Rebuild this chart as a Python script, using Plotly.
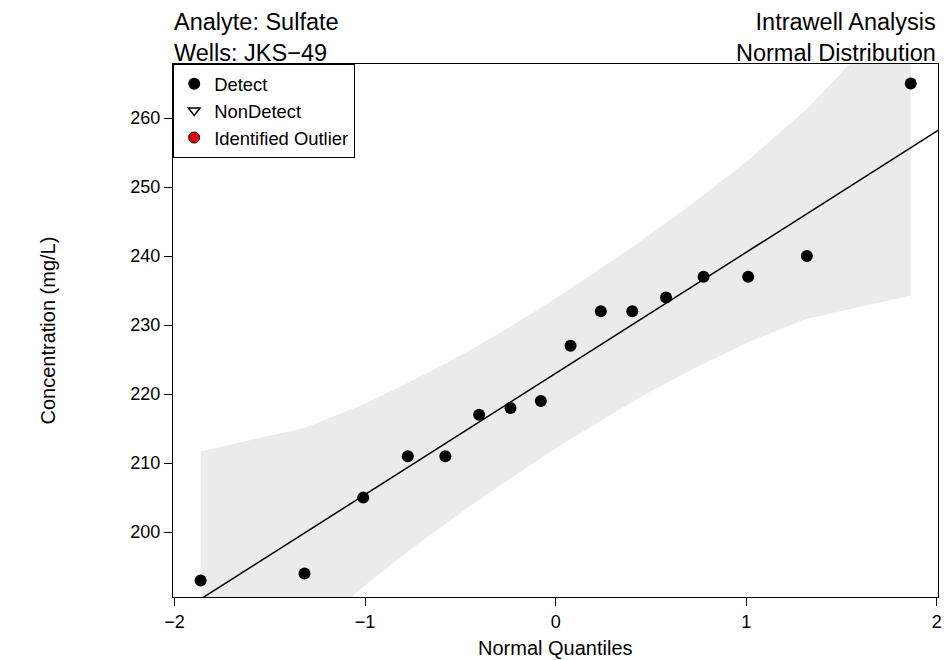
import plotly.graph_objects as go

# normal quantiles of the 16 samples and the measured concentrations
quantiles = [-1.863, -1.318, -1.010, -0.776, -0.579, -0.402, -0.237, -0.078,
             0.078, 0.237, 0.402, 0.579, 0.776, 1.010, 1.318, 1.863]
concentration = [193, 194, 205, 211, 211, 217, 218, 219,
                 227, 232, 232, 234, 237, 237, 240, 265]

# confidence envelope
band_upper = [211.7, 215.1, 218.5, 221.6, 224.4, 227.1, 229.8, 232.5,
              235.3, 238.2, 241.3, 244.8, 248.8, 253.9, 261.3, 277.1]
band_lower = [168.9, 184.7, 192.1, 197.2, 201.2, 204.7, 207.8, 210.7,
              213.5, 216.2, 218.9, 221.6, 224.4, 227.5, 230.9, 234.3]

# fitted reference line
intercept = 223.0
slope = 17.55

x_range = [-2.008, 2.006]
y_range = [190.6, 267.83]

FONT = "Liberation Sans, Arial, Helvetica, sans-serif"


def main():
    fig = go.Figure()

    fig.add_trace(go.Scatter(
        x=quantiles + quantiles[::-1],
        y=band_upper + band_lower[::-1],
        fill="toself", fillcolor="#EBEBEB",
        line=dict(width=0), mode="lines",
        hoverinfo="skip", showlegend=False))

    fig.add_trace(go.Scatter(
        x=x_range,
        y=[intercept + slope * x for x in x_range],
        mode="lines", line=dict(color="black", width=1.5),
        showlegend=False))

    fig.add_trace(go.Scatter(
        x=quantiles, y=concentration, mode="markers", name="Detect",
        marker=dict(symbol="circle", size=12, color="black")))

    fig.add_trace(go.Scatter(
        x=[None], y=[None], mode="markers", name="NonDetect",
        marker=dict(symbol="triangle-down-open", size=10, color="black",
                    line=dict(width=1.5))))

    fig.add_trace(go.Scatter(
        x=[None], y=[None], mode="markers", name="Identified Outlier",
        marker=dict(symbol="circle", size=11, color="#E8000B",
                    line=dict(color="black", width=1))))

    axis_style = dict(
        showline=True, mirror=True, linecolor="black", linewidth=1.2,
        ticks="outside", ticklen=8, tickwidth=1.2, tickcolor="black",
        showgrid=False, zeroline=False,
        tickfont=dict(family=FONT, size=18, color="black"))

    fig.update_xaxes(range=x_range, tickvals=[-2, -1, 0, 1, 2], **axis_style)
    fig.update_yaxes(range=y_range, tickvals=[200, 210, 220, 230, 240, 250, 260],
                     **axis_style)

    fig.add_annotation(text="Analyte: Sulfate<br>Wells: JKS\u221249",
                       xref="paper", yref="paper", x=0, y=1,
                       xanchor="left", yanchor="bottom", align="left",
                       showarrow=False, xshift=-1, yshift=-4,
                       font=dict(family=FONT, size=23.5, color="black"))
    fig.add_annotation(text="Intrawell Analysis<br>Normal Distribution",
                       xref="paper", yref="paper", x=1, y=1,
                       xanchor="right", yanchor="bottom", align="right",
                       showarrow=False, yshift=-4,
                       font=dict(family=FONT, size=23.5, color="black"))
    fig.add_annotation(text="Normal Quantiles",
                       xref="x", yref="paper", x=0, y=0,
                       xanchor="center", yanchor="middle", yshift=-51,
                       showarrow=False,
                       font=dict(family=FONT, size=20, color="black"))
    fig.add_annotation(text="Concentration (mg/L)",
                       xref="paper", yref="paper", x=0, y=0.5,
                       xanchor="center", yanchor="middle", xshift=-126,
                       textangle=-90, showarrow=False,
                       font=dict(family=FONT, size=20, color="black"))

    fig.update_layout(
        width=949, height=660,
        margin=dict(l=173, r=7, t=64, b=63),
        paper_bgcolor="white", plot_bgcolor="white",
        font=dict(family=FONT, color="black"),
        legend=dict(x=0, y=1, xanchor="left", yanchor="top",
                    bgcolor="white", bordercolor="black", borderwidth=1.2,
                    font=dict(family=FONT, size=18.4, color="black"),
                    tracegroupgap=0),
    )

    # the page's default body margin would push the chart 8px off the window
    fig.write_html("out.html", config={"displayModeBar": False},
                   post_script="document.body.style.margin='0';")


if __name__ == "__main__":
    main()
